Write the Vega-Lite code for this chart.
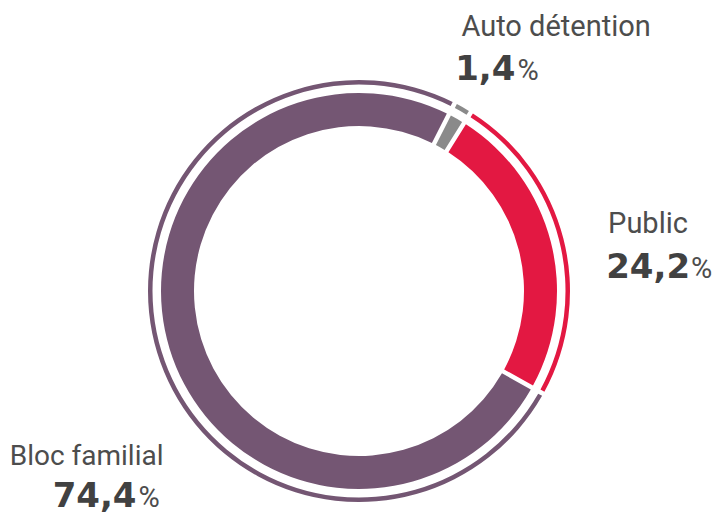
{
  "$schema": "https://vega.github.io/schema/vega-lite/v6.json",
  "autosize": "none",
  "width": 716,
  "height": 450,
  "padding": {"left": 1, "top": 66, "right": 0, "bottom": 0},
  "background": "white",
  "config": {
    "view": {"stroke": null},
    "locale": {"number": {"decimal": ",", "thousands": " ", "grouping": [3], "currency": ["", " €"]}}
  },
  "data": {
    "values": [
      {"nom": "Auto détention", "valeur": 1.4, "rang": 1},
      {"nom": "Public", "valeur": 24.2, "rang": 2},
      {"nom": "Bloc familial", "valeur": 74.4, "rang": 3}
    ]
  },
  "encoding": {
    "theta": {"field": "valeur", "type": "quantitative", "stack": true, "scale": {"range": [0.4712, 6.7544]}},
    "order": {"field": "rang", "type": "quantitative"}
  },
  "layer": [
    {
      "mark": {"type": "arc", "innerRadius": 165, "outerRadius": 198, "padAngle": 0.0175},
      "encoding": {
        "color": {"field": "nom", "type": "nominal", "legend": null,
          "scale": {"domain": ["Auto détention", "Public", "Bloc familial"], "range": ["#8a8a8a", "#e31842", "#745673"]}}
      }
    },
    {
      "mark": {"type": "arc", "innerRadius": 206.5, "outerRadius": 211, "padAngle": 0.016},
      "encoding": {
        "color": {"field": "nom", "type": "nominal", "legend": null,
          "scale": {"domain": ["Auto détention", "Public", "Bloc familial"], "range": ["#8a8a8a", "#e31842", "#745673"]}}
      }
    },
    {
      "mark": {"type": "text", "radius": 220, "align": "left", "baseline": "alphabetic", "dx": -6, "dy": -64, "font": "Roboto", "fontSize": 29, "color": "#4d4d4d"},
      "encoding": {"text": {"condition": {"test": "datum.nom === 'Auto détention'", "field": "nom", "type": "nominal"}, "value": ""}}
    },
    {
      "mark": {"type": "text", "radius": 220, "align": "right", "baseline": "alphabetic", "dx": 48, "dy": -20, "font": "DejaVu Sans", "fontWeight": "bold", "fontSize": 34, "color": "#414141"},
      "encoding": {"text": {"condition": {"test": "datum.nom === 'Auto détention'", "field": "valeur", "type": "quantitative", "format": ".1f"}, "value": ""}}
    },
    {
      "mark": {"type": "text", "radius": 220, "align": "left", "baseline": "alphabetic", "dx": 50, "dy": -20, "font": "Roboto", "fontSize": 29, "color": "#4d4d4d"},
      "encoding": {"text": {"condition": {"test": "datum.nom === 'Auto détention'", "value": "%"}, "value": ""}}
    },
    {
      "mark": {"type": "text", "radius": 220, "align": "left", "baseline": "alphabetic", "dx": 36, "dy": -3, "font": "Roboto", "fontSize": 29, "color": "#4d4d4d"},
      "encoding": {"text": {"condition": {"test": "datum.nom === 'Public'", "field": "nom", "type": "nominal"}, "value": ""}}
    },
    {
      "mark": {"type": "text", "radius": 220, "align": "right", "baseline": "alphabetic", "dx": 118, "dy": 42, "font": "DejaVu Sans", "fontWeight": "bold", "fontSize": 34, "color": "#414141"},
      "encoding": {"text": {"condition": {"test": "datum.nom === 'Public'", "field": "valeur", "type": "quantitative", "format": ".1f"}, "value": ""}}
    },
    {
      "mark": {"type": "text", "radius": 220, "align": "left", "baseline": "alphabetic", "dx": 119, "dy": 42, "font": "Roboto", "fontSize": 29, "color": "#4d4d4d"},
      "encoding": {"text": {"condition": {"test": "datum.nom === 'Public'", "value": "%"}, "value": ""}}
    },
    {
      "mark": {"type": "text", "radius": 220, "align": "right", "baseline": "alphabetic", "dx": 15, "dy": 110, "font": "Roboto", "fontSize": 28, "color": "#4d4d4d"},
      "encoding": {"text": {"condition": {"test": "datum.nom === 'Bloc familial'", "field": "nom", "type": "nominal"}, "value": ""}}
    },
    {
      "mark": {"type": "text", "radius": 220, "align": "right", "baseline": "alphabetic", "dx": -12, "dy": 152, "font": "DejaVu Sans", "fontWeight": "bold", "fontSize": 34, "color": "#414141"},
      "encoding": {"text": {"condition": {"test": "datum.nom === 'Bloc familial'", "field": "valeur", "type": "quantitative", "format": ".1f"}, "value": ""}}
    },
    {
      "mark": {"type": "text", "radius": 220, "align": "left", "baseline": "alphabetic", "dx": -10, "dy": 152, "font": "Roboto", "fontSize": 29, "color": "#4d4d4d"},
      "encoding": {"text": {"condition": {"test": "datum.nom === 'Bloc familial'", "value": "%"}, "value": ""}}
    }
  ]
}
